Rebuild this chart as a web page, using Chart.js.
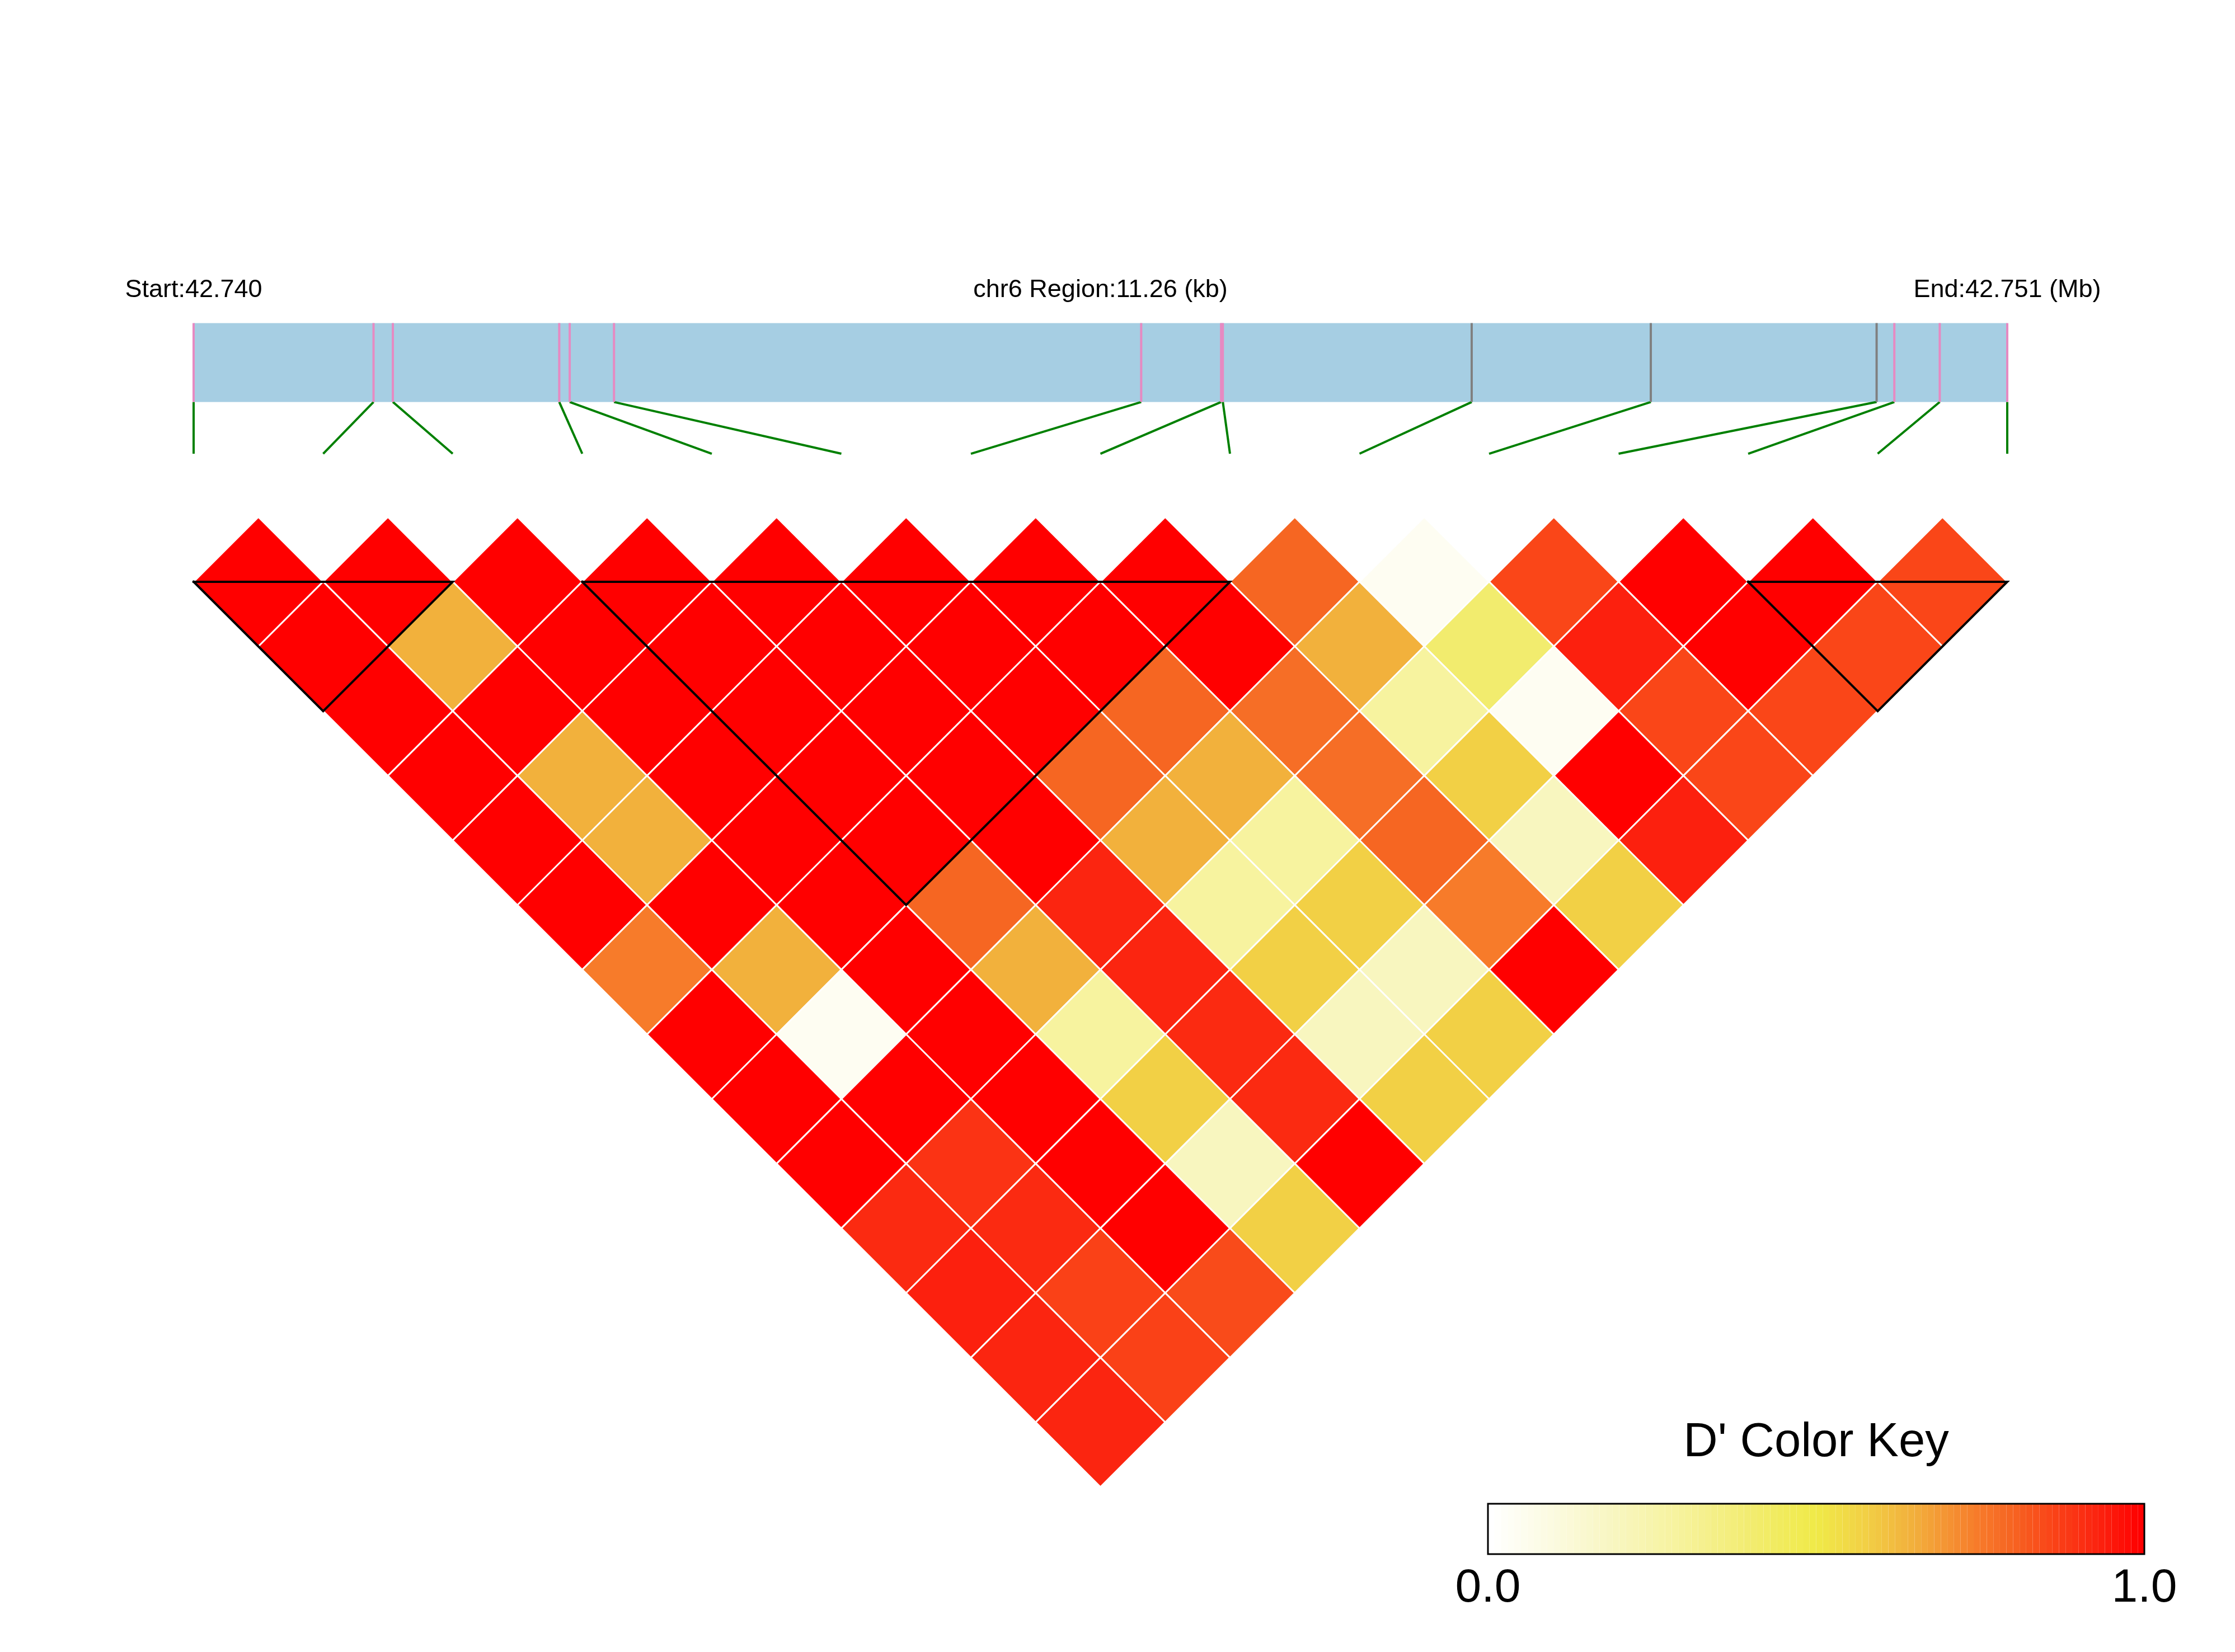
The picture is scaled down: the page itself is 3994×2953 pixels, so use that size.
<!DOCTYPE html>
<html>
<head>
<meta charset="utf-8">
<script src="https://cdn.jsdelivr.net/npm/chart.js@4.4.1/dist/chart.umd.min.js"></script>
<style>
html,body{margin:0;padding:0;background:#ffffff;}
canvas{display:block;}
</style>
</head>
<body>
<canvas id="c" width="3994" height="2953" style="width:3994px;height:2953px"></canvas>
<script>
// ---------------- data ----------------
const chromosome = 'chr6';
// physical SNP positions (bp)
const snpPositions = [42740120, 42741237, 42741357, 42742390, 42742455, 42742730, 42746003,
  42746499, 42746510, 42748055, 42749167, 42750569, 42750679, 42750961, 42751380];
// colour of each SNP tick inside the region bar
const snpMarkColors = ['#e68ac2', '#e68ac2', '#e68ac2', '#e68ac2', '#e68ac2', '#e68ac2', '#e68ac2',
  '#e68ac2', '#e68ac2', '#808080', '#808080', '#808080', '#e68ac2', '#e68ac2', '#e68ac2'];
// D' values, row k holds the pairs (i, i+k+1)
const dPrime1 = [1, 1, 1, 1, 1, 1, 1, 1, 0.80, 0.04, 0.86, 1, 1, 0.86];
const dPrime2 = [1, 0.65, 1, 1, 1, 1, 1, 1, 0.65, 0.40, 0.94, 1, 0.86];
const dPrime3 = [1, 1, 1, 1, 1, 1, 0.80, 0.78, 0.28, 0.04, 0.86, 0.86];
const dPrime4 = [1, 0.65, 1, 1, 1, 0.80, 0.65, 0.78, 0.575, 1, 0.86];
const dPrime5 = [1, 0.65, 1, 1, 1, 0.65, 0.28, 0.80, 0.19, 0.94];
const dPrime6 = [1, 1, 1, 0.80, 0.93, 0.28, 0.575, 0.75, 0.575];
const dPrime7 = [0.75, 0.65, 1, 0.65, 0.93, 0.575, 0.19, 1];
const dPrime8 = [1, 0.04, 1, 0.28, 0.92, 0.19, 0.575];
const dPrime9 = [1, 1, 1, 0.575, 0.92, 0.575];
const dPrime10 = [1, 0.90, 1, 0.19, 1];
const dPrime11 = [0.92, 0.92, 1, 0.575];
const dPrime12 = [0.94, 0.87, 0.85];
const dPrime13 = [0.93, 0.87];
const dPrime14 = [0.93];
const dPrimeByDistance = [dPrime1, dPrime2, dPrime3, dPrime4, dPrime5, dPrime6, dPrime7,
  dPrime8, dPrime9, dPrime10, dPrime11, dPrime12, dPrime13, dPrime14];
// haplotype blocks (first SNP index, last SNP index)
const ldBlocks = [[0, 2], [3, 8], [12, 14]];
// colour key
const keyTitle = "D' Color Key";
const keyTickLabels = ['0.0', '1.0'];
const keyStops = [0, 0.19, 0.28, 0.40, 0.50, 0.575, 0.65, 0.75, 0.80, 0.86, 0.93, 1.0];
const keyColors = [[255,255,255],[248,246,192],[247,243,160],[242,236,112],[240,234,72],[242,208,69],
  [242,175,60],[247,122,42],[246,101,34],[250,69,24],[251,37,16],[255,0,0]];
const keyBands = 100;

// ---------------- helpers ----------------
const FONT = '"Liberation Sans", Arial, Helvetica, sans-serif';
function rampColor(t) {
  t = Math.max(0, Math.min(1, t));
  for (let s = 1; s < keyStops.length; s++) {
    if (t <= keyStops[s]) {
      const f = (t - keyStops[s-1]) / (keyStops[s] - keyStops[s-1]);
      const a = keyColors[s-1], b = keyColors[s];
      return 'rgb(' + a.map((c, q) => Math.round(c + (b[q] - c) * f)).join(',') + ')';
    }
  }
  return 'rgb(' + keyColors[keyColors.length-1].join(',') + ')';
}
function dColor(v) {
  const band = Math.min(keyBands - 1, Math.round(v * (keyBands - 1)));
  return rampColor(band / (keyBands - 1));
}
const nSnp = snpPositions.length;
const regionStart = snpPositions[0], regionEnd = snpPositions[nSnp - 1];
const physToIndex = p => (p - regionStart) / (regionEnd - regionStart) * (nSnp - 1);

// vertical levels (in index units above the heatmap's top edge)
const LEVEL = { connectorLow: 0.99, barBottom: 1.39, barTop: 2.0, label: 2.2 };

// ---------------- datasets ----------------
const cellPoints = [];
dPrimeByDistance.forEach((row, k) => row.forEach((v, i) => {
  cellPoints.push({ x: i + (k + 1) / 2, y: -k / 2, v: v });
}));

const halfStep = ctx => {
  const s = ctx.chart.scales.x;
  return Math.abs(s.getPixelForValue(0.5) - s.getPixelForValue(0));
};

const datasets = [];
// block outlines (on top)
ldBlocks.forEach(([a, b]) => datasets.push({
  data: [{x: a, y: 0}, {x: b, y: 0}, {x: (a + b) / 2, y: -(b - a) / 2}, {x: a, y: 0}],
  showLine: true, borderColor: '#000000', borderWidth: 4, pointRadius: 0,
  borderJoinStyle: 'miter', borderCapStyle: 'square', tension: 0, fill: false, clip: false, order: -2
}));
// SNP ticks in the region bar and connectors
snpPositions.forEach((p, k) => {
  const u = physToIndex(p);
  datasets.push({
    data: [{x: u, y: LEVEL.barBottom}, {x: u, y: LEVEL.barTop}],
    showLine: true, borderColor: snpMarkColors[k], borderWidth: 4, pointRadius: 0,
    tension: 0, fill: false, clip: false, order: -1
  });
  datasets.push({
    data: [{x: k, y: LEVEL.connectorLow}, {x: u, y: LEVEL.barBottom}],
    showLine: true, borderColor: '#008000', borderWidth: 4, pointRadius: 0,
    tension: 0, fill: false, clip: false, order: -1
  });
});
// LD cells
datasets.push({
  data: cellPoints,
  pointStyle: 'rectRot',
  pointRadius: halfStep,
  pointHoverRadius: halfStep,
  pointBackgroundColor: ctx => (ctx.raw ? dColor(ctx.raw.v) : '#ffffff'),
  pointBorderColor: '#ffffff',
  pointBorderWidth: 3,
  showLine: false, clip: false, order: 1
});

// ---------------- plugins ----------------
const regionBarPlugin = {
  id: 'regionBar',
  beforeDatasetsDraw(chart) {
    const {ctx, scales: {x, y}} = chart;
    ctx.save();
    ctx.fillStyle = '#a6cee3';
    const x0 = x.getPixelForValue(0), x1 = x.getPixelForValue(nSnp - 1);
    const yT = y.getPixelForValue(LEVEL.barTop), yB = y.getPixelForValue(LEVEL.barBottom);
    ctx.fillRect(x0, yT, x1 - x0, yB - yT);
    ctx.restore();
  },
  afterDraw(chart) {
    const {ctx, scales: {x, y}} = chart;
    ctx.save();
    ctx.fillStyle = '#000000';
    ctx.font = '45px ' + FONT;
    ctx.textAlign = 'center';
    ctx.textBaseline = 'alphabetic';
    const yl = y.getPixelForValue(LEVEL.label);
    ctx.fillText('Start:' + (regionStart / 1e6).toFixed(3), x.getPixelForValue(0), yl);
    ctx.fillText(chromosome + ' Region:' + ((regionEnd - regionStart) / 1000).toFixed(2) + ' (kb)',
      x.getPixelForValue((nSnp - 1) / 2), yl);
    ctx.fillText('End:' + (regionEnd / 1e6).toFixed(3) + ' (Mb)', x.getPixelForValue(nSnp - 1), yl);
    ctx.restore();
  }
};

const colorKeyPlugin = {
  id: 'colorKey',
  afterDraw(chart) {
    const ctx = chart.ctx;
    const L = 2659, R = 3832, T = 2688, B = 2778;
    const w = (R - L) / keyBands;
    ctx.save();
    for (let k = 0; k < keyBands; k++) {
      ctx.fillStyle = rampColor(k / (keyBands - 1));
      ctx.fillRect(L + k * w, T, w, B - T);
    }
    ctx.strokeStyle = '#000000';
    ctx.lineWidth = 3;
    ctx.strokeRect(L, T, R - L, B - T);
    ctx.fillStyle = '#000000';
    ctx.textAlign = 'center';
    ctx.textBaseline = 'alphabetic';
    ctx.font = '85px ' + FONT;
    ctx.fillText(keyTitle, (L + R) / 2, 2603);
    ctx.font = '84px ' + FONT;
    ctx.fillText(keyTickLabels[0], L, 2863);
    ctx.fillText(keyTickLabels[1], R, 2863);
    ctx.restore();
  }
};

// ---------------- chart ----------------
new Chart(document.getElementById('c'), {
  type: 'scatter',
  data: { datasets: datasets },
  options: {
    responsive: false,
    animation: false,
    devicePixelRatio: 1,
    events: [],
    layout: { padding: { left: 346, right: 407, top: 462, bottom: 295 } },
    scales: {
      x: { type: 'linear', min: 0, max: nSnp - 1, display: false },
      y: { type: 'linear', min: -7, max: 2.5, display: false }
    },
    plugins: { legend: { display: false }, tooltip: { enabled: false }, title: { display: false } }
  },
  plugins: [regionBarPlugin, colorKeyPlugin]
});
</script>
</body>
</html>
